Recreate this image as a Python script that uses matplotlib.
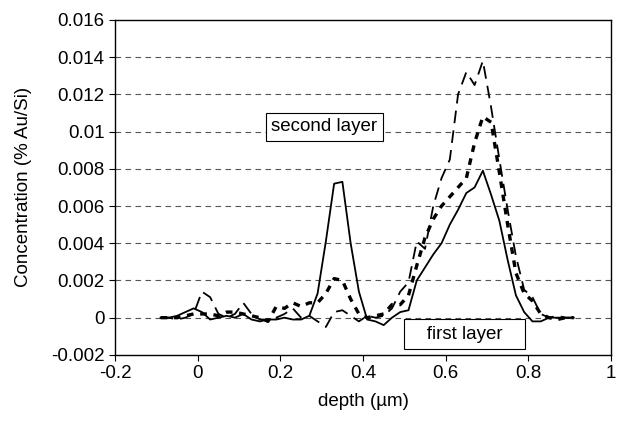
import numpy as np
import matplotlib.pyplot as plt

plt.rcParams['font.family'] = ['Liberation Sans', 'DejaVu Sans']

# depth points (um), step 0.02
depth = [-0.09 + 0.02 * k for k in range(51)]

# solid line
conc_a = [0, 0, 0.0001, 0.0003, 0.0005, 0.0003, -0.0001, 0.0, 0.0001, 0.0,
          0.0002, -0.0001, -0.0002, -0.0001, -0.0001, 0.0, -0.0001, -0.0001, 0.0001, 0.0013,
          0.0041, 0.0072, 0.0073, 0.0040, 0.0014, -0.0001, -0.0002, -0.0004, 0.0, 0.0003,
          0.0004, 0.0020, 0.0027, 0.0034, 0.0040, 0.0050, 0.0058, 0.0067, 0.0070, 0.0079,
          0.0066, 0.0052, 0.0031, 0.0012, 0.0003, -0.0002, -0.0002, 0.0, 0.0, 0.0,
          0.0]

# long dashed line
conc_b = [0, 0, -0.0001, 0.0, 0.0002, 0.0014, 0.0011, 0.0002, 0.0, 0.0002,
          0.0008, 0.0002, -0.0001, -0.0001, 0.0, 0.0002, 0.0005, 0.0, 0.0001, -0.0002,
          -0.0005, 0.0003, 0.0004, 0.0001, -0.0002, 0.0001, 0.0, 0.0001, 0.0005, 0.0014,
          0.0019, 0.0041, 0.0037, 0.0060, 0.0075, 0.0085, 0.0120, 0.0132, 0.0125, 0.0138,
          0.0113, 0.0085, 0.0058, 0.0033, 0.0015, 0.0011, 0.0002, 0.0, 0.0001, 0.0,
          0.0]

# short dashed line
conc_c = [0, 0, 0, 0.0001, 0.0002, 0.0002, 0.0002, 0.0001, 0.0003, 0.0003,
          0.0002, 0.0001, 0.0, -0.0002, 0.0006, 0.0005, 0.0008, 0.0006, 0.0008, 0.0008,
          0.0013, 0.0021, 0.0020, 0.0010, 0.0002, 0.0, 0.0001, 0.0002, 0.0007, 0.0007,
          0.0012, 0.0028, 0.0043, 0.0053, 0.0060, 0.0065, 0.0070, 0.0075, 0.0094, 0.0108,
          0.0105, 0.0078, 0.0050, 0.0024, 0.0013, 0.0009, 0.0002, 0.0, -0.0001, 0.0,
          0.0]

yticks = [-0.002, 0, 0.002, 0.004, 0.006, 0.008, 0.01, 0.012, 0.014, 0.016]
ytick_labels = ["-0.002", "0", "0.002", "0.004", "0.006", "0.008", "0.01",
                "0.012", "0.014", "0.016"]
xticks = [-0.2, 0, 0.2, 0.4, 0.6, 0.8, 1]
xtick_labels = ["-0.2", "0", "0.2", "0.4", "0.6", "0.8", "1"]

fs = 13.5

fig = plt.figure(figsize=(6.19, 4.24), dpi=100)
ax = fig.add_axes([0.186, 0.163, 0.801, 0.79])

for y in yticks[1:-1]:
    ax.axhline(y, color="#555555", lw=0.8, ls=(0, (5, 4)), zorder=0)

ax.plot(depth, conc_a, color="black", lw=1.3, ls="-")
ax.plot(depth, conc_b, color="black", lw=1.3, ls=(0, (7, 4)))
ax.plot(depth, conc_c, color="black", lw=2.4, ls=(0, (2, 2)))

ax.set_xlim(-0.2, 1)
ax.set_ylim(-0.002, 0.016)
ax.set_xticks(xticks)
ax.set_xticklabels(xtick_labels)
ax.set_yticks(yticks)
ax.set_yticklabels(ytick_labels)
ax.tick_params(direction="out", length=4, labelsize=fs, width=0.8)
for s in ax.spines.values():
    s.set_linewidth(1.0)

ax.set_xlabel("depth (\u00b5m)", fontsize=fs, labelpad=8)
ax.set_ylabel("Concentration (% Au/Si)", fontsize=fs, labelpad=14)

ax.text(0.306, 0.01026, "second layer", ha="center", va="center", fontsize=fs,
        bbox=dict(boxstyle="square,pad=0.3", fc="white", ec="black", lw=0.8))
ax.text(0.646, -0.00088, "   first layer   ", ha="center", va="center", fontsize=fs,
        bbox=dict(boxstyle="square,pad=0.35", fc="white", ec="black", lw=0.8))

fig.savefig("out.png", dpi=100)
